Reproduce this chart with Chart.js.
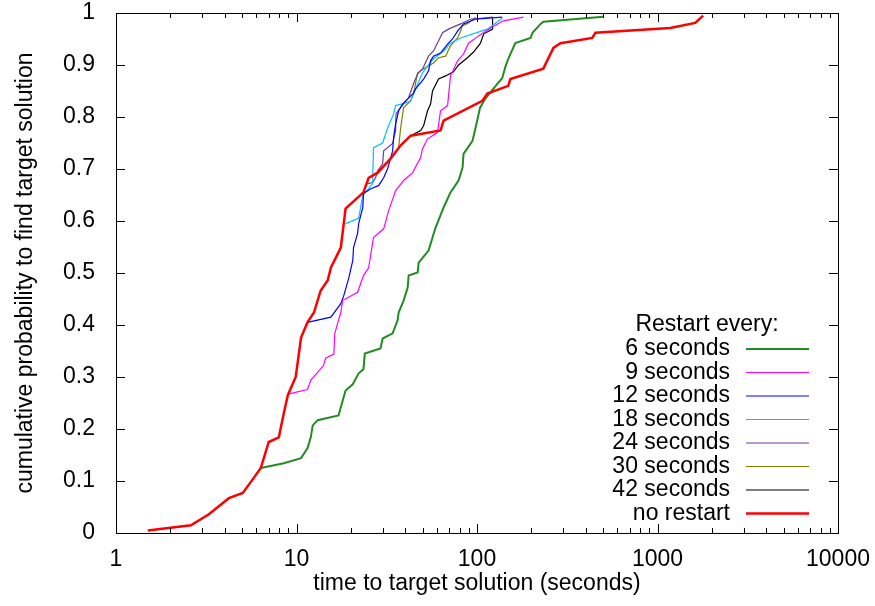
<!DOCTYPE html>
<html>
<head>
<meta charset="utf-8">
<script src="https://cdn.jsdelivr.net/npm/chart.js@4/dist/chart.umd.min.js"></script>
<style>html,body{margin:0;padding:0;background:#fff}</style>
</head>
<body>
<canvas id="c" width="875" height="606"></canvas>
<script>
// tick positions
const xTicks = [1, 10, 100, 1000, 10000];
const yTicks = [0, 0.1, 0.2, 0.3, 0.4, 0.5, 0.6, 0.7, 0.8, 0.9, 1];

// restart every 6 seconds
const t6 = [6.34, 8.5, 10.6, 11.5, 12.0, 12.3, 13.1, 17.1, 17.6, 18.7, 20.5, 22.1, 23.5, 23.9, 29.2, 30, 34.1, 36.3, 36.8, 39.2, 41.3, 41.8, 46.9, 47.5, 53.9, 58.9, 65.3, 71.3, 79, 83.2, 84.2, 94.4, 98.1, 104, 111, 123, 138, 144, 149, 163, 198, 203, 225, 233, 501];
const p6 = [0.125, 0.134, 0.144, 0.163, 0.184, 0.207, 0.217, 0.226, 0.242, 0.274, 0.286, 0.307, 0.315, 0.345, 0.355, 0.374, 0.384, 0.409, 0.424, 0.447, 0.472, 0.495, 0.501, 0.52, 0.543, 0.587, 0.626, 0.655, 0.678, 0.703, 0.729, 0.754, 0.779, 0.818, 0.835, 0.854, 0.875, 0.898, 0.912, 0.942, 0.952, 0.962, 0.979, 0.983, 0.993];

// restart every 9 seconds
const t9 = [8.95, 11.5, 12.0, 13.1, 14.1, 14.5, 16.1, 16.3, 16.9, 17.6, 18.0, 21.8, 23.5, 25.1, 26.7, 30.4, 32.4, 35.4, 39.2, 44, 48.7, 49.9, 53.2, 60.4, 62.8, 68.7, 71.3, 78, 84.2, 89.8, 102, 119, 140, 181];
const p9 = [0.267, 0.276, 0.294, 0.309, 0.322, 0.336, 0.344, 0.384, 0.403, 0.424, 0.447, 0.463, 0.495, 0.51, 0.568, 0.585, 0.62, 0.658, 0.678, 0.693, 0.722, 0.739, 0.758, 0.77, 0.812, 0.822, 0.879, 0.908, 0.921, 0.942, 0.956, 0.971, 0.985, 0.992];

// restart every 12 seconds
const t12 = [11.5, 15.5, 17.6, 18.3, 19.5, 20.5, 20.7, 21.8, 22.1, 23.3, 23.5, 25.8, 28.5, 30.4, 32, 34.1, 34.5, 35.4, 36.8, 38.7, 41.3, 44.5, 45.7, 50.6, 53.9, 55.3, 57.4, 62.8, 68.7, 73.2, 78, 84.2, 98, 138];
const p12 = [0.405, 0.415, 0.441, 0.457, 0.491, 0.524, 0.549, 0.576, 0.595, 0.626, 0.653, 0.662, 0.668, 0.683, 0.701, 0.735, 0.76, 0.787, 0.812, 0.825, 0.835, 0.846, 0.854, 0.873, 0.889, 0.908, 0.917, 0.923, 0.94, 0.95, 0.965, 0.979, 0.988, 0.992];

// restart every 18 seconds
const t18 = [18.7, 22.1, 23.3, 26.4, 26.7, 30, 32, 34.5, 35.4, 40.2, 42.9, 44.5, 49.9, 53.2, 57.4, 65.3, 71.3, 81.1, 114, 138];
const p18 = [0.595, 0.605, 0.649, 0.672, 0.741, 0.75, 0.779, 0.806, 0.822, 0.827, 0.831, 0.845, 0.885, 0.898, 0.912, 0.927, 0.942, 0.952, 0.969, 0.99];

// restart every 24 seconds
const t24 = [24.8, 26.4, 27.4, 28.2, 30, 30.4, 34.1, 35.4, 35.6, 37.7, 41.8, 44.5, 46.9, 50, 53.9, 57.4, 61.2, 64.4, 69.5, 81, 92, 123];
const p24 = [0.672, 0.674, 0.683, 0.697, 0.71, 0.735, 0.749, 0.774, 0.806, 0.818, 0.837, 0.864, 0.883, 0.893, 0.917, 0.927, 0.946, 0.962, 0.969, 0.979, 0.988, 0.992];

// restart every 30 seconds
const t30 = [36.8, 37.7, 39.2, 42.9, 44.5, 46.9, 50.6, 57.4, 61.2, 67, 71.3, 78, 81, 83, 89.8, 98];
const p30 = [0.741, 0.777, 0.818, 0.831, 0.845, 0.885, 0.893, 0.904, 0.914, 0.917, 0.937, 0.952, 0.965, 0.975, 0.981, 0.992];

// restart every 42 seconds
const t42 = [42.9, 48.7, 50.6, 53.2, 55.3, 56.7, 61.2, 67, 74.1, 79, 88.5, 95.7, 104.5, 109, 122, 122];
const p42 = [0.764, 0.774, 0.783, 0.812, 0.825, 0.85, 0.873, 0.879, 0.887, 0.9, 0.914, 0.925, 0.942, 0.96, 0.969, 0.99];

// no restart
const tNo = [1.5, 2.6, 3.27, 4.22, 5.04, 5.8, 6.34, 7.02, 7.98, 8.5, 8.95, 9.9, 10.6, 11.5, 12.5, 13.6, 14.9, 15.5, 17.6, 18.7, 23.5, 25.1, 28.2, 33.2, 37.7, 42.9, 62.8, 65.3, 107, 114, 149, 153, 233, 265, 290, 435, 453, 1177, 1618, 1790];
const pNo = [0.005, 0.015, 0.036, 0.067, 0.077, 0.106, 0.125, 0.175, 0.184, 0.23, 0.265, 0.30, 0.376, 0.405, 0.424, 0.466, 0.486, 0.51, 0.549, 0.624, 0.655, 0.683, 0.693, 0.72, 0.745, 0.764, 0.774, 0.793, 0.831, 0.845, 0.86, 0.873, 0.893, 0.933, 0.942, 0.952, 0.962, 0.971, 0.981, 0.995];

const zip = (t, p) => t.map((x, i) => ({ x, y: p[i] }));

const series = [
  { label: '6 seconds', t: t6, p: p6, color: '#228b22', width: 2 },
  { label: '9 seconds', t: t9, p: p9, color: '#ff00ff', width: 1.2 },
  { label: '12 seconds', t: t12, p: p12, color: '#0000ff', width: 1.2 },
  { label: '18 seconds', t: t18, p: p18, color: '#00bfff', width: 1.2 },
  { label: '24 seconds', t: t24, p: p24, color: '#6a3d9a', width: 1.2 },
  { label: '30 seconds', t: t30, p: p30, color: '#808000', width: 1.2 },
  { label: '42 seconds', t: t42, p: p42, color: '#000000', width: 1.2 },
  { label: 'no restart', t: tNo, p: pNo, color: '#ff0000', width: 2.5 }
];

const FONT = 'Liberation Sans, Arial, Helvetica, sans-serif';
const FSIZE = 23;

// gnuplot-style box with inward ticks, and the key in the lower right
const framePlugin = {
  id: 'frame',
  afterDatasetsDraw(chart) {
    const { ctx, chartArea: a, scales } = chart;
    const xs = scales.x, ys = scales.y;
    ctx.save();
    ctx.strokeStyle = '#000';
    ctx.lineWidth = 1;
    ctx.beginPath();
    xTicks.forEach(d => {
      for (let k = 1; k < 10; k++) {
        const v = d * k;
        if (v > xTicks[xTicks.length - 1]) break;
        const px = Math.round(xs.getPixelForValue(v)) + 0.5;
        const len = k === 1 ? 9 : 5;
        ctx.moveTo(px, a.bottom); ctx.lineTo(px, a.bottom - len);
        ctx.moveTo(px, a.top); ctx.lineTo(px, a.top + len);
      }
    });
    yTicks.forEach(v => {
      const py = Math.round(ys.getPixelForValue(v)) + 0.5;
      ctx.moveTo(a.left, py); ctx.lineTo(a.left + 9, py);
      ctx.moveTo(a.right, py); ctx.lineTo(a.right - 9, py);
    });
    ctx.stroke();
    ctx.strokeRect(Math.round(a.left) + 0.5, Math.round(a.top) + 0.5,
      Math.round(a.right - a.left), Math.round(a.bottom - a.top));

    // key
    ctx.font = FSIZE + 'px ' + FONT;
    ctx.fillStyle = '#000';
    ctx.textBaseline = 'middle';
    ctx.textAlign = 'center';
    ctx.fillText('Restart every:', 707, 325);
    chart.data.datasets.forEach((ds, i) => {
      const y = 349 + i * 23.5;
      ctx.textAlign = 'right';
      ctx.fillStyle = '#000';
      ctx.fillText(ds.label, 730, y);
      ctx.strokeStyle = ds.borderColor;
      ctx.lineWidth = ds.borderWidth;
      ctx.beginPath();
      ctx.moveTo(746, y); ctx.lineTo(809, y);
      ctx.stroke();
    });
    ctx.restore();
  }
};

new Chart(document.getElementById('c'), {
  type: 'line',
  data: {
    datasets: series.map(s => ({
      label: s.label,
      data: zip(s.t, s.p),
      borderColor: s.color,
      backgroundColor: s.color,
      borderWidth: s.width,
      pointRadius: 0,
      tension: 0,
      fill: false,
      order: s.label === 'no restart' ? 0 : 1
    }))
  },
  options: {
    responsive: false,
    animation: false,
    devicePixelRatio: 1,
    layout: { padding: { top: 13, right: 37, left: 0, bottom: 0 } },
    plugins: { legend: { display: false }, tooltip: { enabled: false } },
    scales: {
      x: {
        type: 'logarithmic',
        min: 1,
        max: 10000,
        afterBuildTicks: s => { s.ticks = xTicks.map(v => ({ value: v })); },
        afterFit: s => { s.height = 73; s.paddingLeft = 0; s.paddingRight = 0; },
        grid: { display: false },
        border: { display: false },
        ticks: {
          color: '#000',
          font: { family: FONT, size: FSIZE },
          padding: 5,
          maxRotation: 0,
          autoSkip: false,
          callback: v => String(v)
        },
        title: {
          display: true,
          text: 'time to target solution (seconds)',
          color: '#000',
          font: { family: FONT, size: FSIZE },
          padding: { top: 0, bottom: 9 }
        }
      },
      y: {
        min: 0,
        max: 1,
        afterBuildTicks: s => { s.ticks = yTicks.map(v => ({ value: v })); },
        afterFit: s => { s.width = 116; s.paddingTop = 0; s.paddingBottom = 0; },
        grid: { display: false },
        border: { display: false },
        ticks: {
          color: '#000',
          font: { family: FONT, size: FSIZE },
          padding: 13,
          callback: v => String(v)
        },
        title: {
          display: true,
          text: 'cumulative probability to find target solution',
          color: '#000',
          font: { family: FONT, size: FSIZE },
          padding: { top: 12, bottom: 0 }
        }
      }
    }
  },
  plugins: [framePlugin]
});
</script>
</body>
</html>
